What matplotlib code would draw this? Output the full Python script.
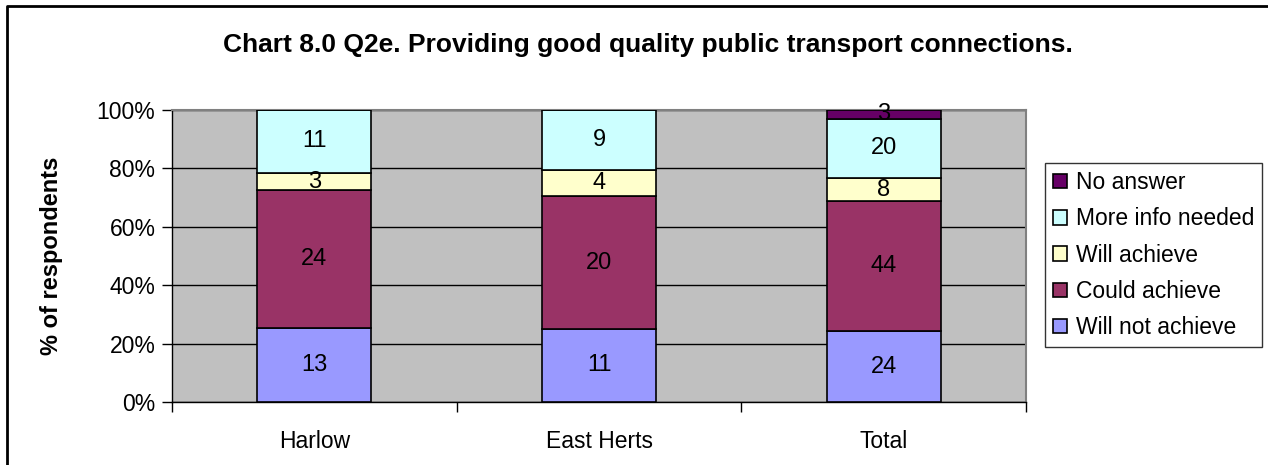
import numpy as np
import matplotlib
matplotlib.use('Agg')
from matplotlib import pyplot as plt
from matplotlib.lines import Line2D
from matplotlib.ticker import FuncFormatter, MultipleLocator

plt.rcParams['font.family'] = ['Liberation Sans', 'DejaVu Sans']

# ~~~~~~~~~~~~~~~~~~~~~~ data (counts of respondents) ~~~~~~~~~~~~~~~~~~~~~~
categories = ['Harlow', 'East Herts', 'Total']
series_names = ['Will not achieve', 'Could achieve', 'Will achieve', 'More info needed', 'No answer']
will_not_achieve = [13, 11, 24]
could_achieve = [24, 20, 44]
will_achieve = [3, 4, 8]
more_info_needed = [11, 9, 20]
no_answer = [0, 0, 3]
colours = ['#9999FF', '#993366', '#FFFFCC', '#CCFFFF', '#660066']

counts = np.array([will_not_achieve, could_achieve, will_achieve, more_info_needed, no_answer], dtype=float)
pct = counts / counts.sum(axis=0) * 100

fig = plt.figure(figsize=(12.68, 4.65), dpi=100)
ax = fig.add_axes([0.1357, 0.1355, 0.6735, 0.628])
ax.set_facecolor('#C0C0C0')

x = np.arange(len(categories)) + 0.5
bottom = np.zeros(len(categories))
handles = []
for i, name in enumerate(series_names):
    h = ax.bar(x, pct[i], 0.4, bottom=bottom, color=colours[i], edgecolor='black',
               linewidth=1.2, label=name, zorder=3)
    handles.append(h)
    for j in range(len(categories)):
        if counts[i, j] > 0:
            ax.text(x[j], bottom[j] + pct[i, j] / 2, '%d' % counts[i, j], ha='center',
                    va='center', fontsize=17, zorder=4)
    bottom += pct[i]

ax.set_xlim(0, 3)
ax.set_ylim(0, 100)
ax.yaxis.set_major_locator(MultipleLocator(20))
ax.yaxis.set_major_formatter(FuncFormatter(lambda v, p: '%d%%' % v))
ax.set_xticks([0, 1, 2, 3])
ax.set_xticklabels([])
ax.set_xticks(x, minor=True)
ax.set_xticklabels(categories, minor=True)
ax.tick_params(axis='x', which='minor', length=0, labelsize=16.5, pad=20)
ax.tick_params(axis='x', which='major', length=7, width=1, direction='out')
ax.tick_params(axis='y', length=7, width=1, direction='out', labelsize=16.5, pad=5)
ax.grid(axis='y', color='black', linewidth=1, zorder=1)
ax.set_axisbelow(True)
for s in ['top', 'right']:
    ax.spines[s].set_color('#808080')
    ax.spines[s].set_linewidth(1.5)
for s in ['left', 'bottom']:
    ax.spines[s].set_color('black')
    ax.spines[s].set_linewidth(1)

ax.set_ylabel('% of respondents', fontsize=17, fontweight='bold', labelpad=24)

fig.text(0.511, 1 - 52 / 465, 'Chart 8.0 Q2e. Providing good quality public transport connections.',
         ha='center', va='baseline', fontsize=19, fontweight='bold')

leg = fig.legend(handles[::-1], series_names[::-1], loc='upper left',
                 bbox_to_anchor=(1045 / 1268, 1 - 163 / 465), bbox_transform=fig.transFigure,
                 fontsize=16.5, frameon=True, fancybox=False, shadow=False,
                 handlelength=0.6, handleheight=0.6, handletextpad=0.4,
                 labelspacing=0.58, borderpad=0.35, borderaxespad=0)
leg.get_frame().set_edgecolor('black')
leg.get_frame().set_linewidth(1)

# outer chart frame: only top and left edges are inside the picture
fig.lines.append(Line2D([7 / 1268, 7 / 1268, 1.0], [0.0, 1 - 6 / 465, 1 - 6 / 465],
                        transform=fig.transFigure, color='black', linewidth=2))

plt.savefig('out.png', dpi=100)
